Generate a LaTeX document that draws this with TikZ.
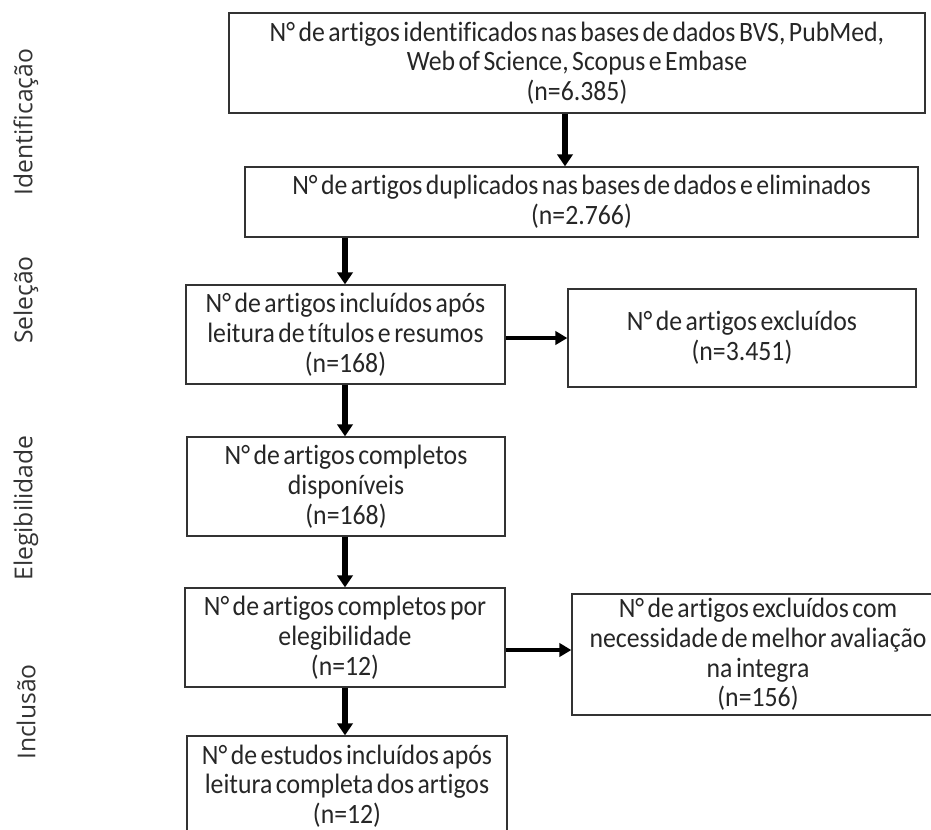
\documentclass[tikz,border=0pt]{standalone}
\usepackage{fontspec}
\setmainfont{Carlito}
\newfontfamily\boxfont[WordSpace=0.6,FakeStretch=0.92,Ligatures={NoCommon}]{Carlito}
\newfontfamily\sidefont{Open Sans}
\usetikzlibrary{arrows.meta}
\definecolor{boxline}{HTML}{333333}
\begin{document}
\begin{tikzpicture}[x=0.75pt,y=-0.75pt,
  flowbox/.style={draw=boxline,line width=1pt,inner sep=0pt,align=center,
    font=\boxfont\fontsize{21pt}{22.3pt}\selectfont,text=black!85},
  sidelabel/.style={rotate=90,font=\sidefont\fontsize{18.5pt}{20pt}\selectfont,text=black!80},
  varrow/.style={line width=3.8pt,-{Triangle[length=9pt,width=11.5pt]}},
  harrow/.style={line width=3pt,-{Triangle[length=9pt,width=10pt]}}]
\useasboundingbox (0,0) rectangle (931,829);
\fill[white] (0,0) rectangle (931,829);

\node[flowbox,minimum width=696*0.75pt,minimum height=100*0.75pt] (b1) at (577,63)
  {N° de artigos identificados nas bases de dados BVS, PubMed,\\Web of Science, Scopus e Embase\\(n=6.385)};
\node[flowbox,minimum width=673*0.75pt,minimum height=70*0.75pt] (b2) at (581.5,202)
  {N° de artigos duplicados nas bases de dados e eliminados\\(n=2.766)};
\node[flowbox,minimum width=319*0.75pt,minimum height=99*0.75pt] (b3) at (345.5,334.5)
  {N° de artigos incluídos após\\leitura de títulos e resumos\\(n=168)};
\node[flowbox,minimum width=348*0.75pt,minimum height=98*0.75pt] (b4) at (742,338)
  {N° de artigos excluídos\\(n=3.451)};
\node[flowbox,minimum width=318*0.75pt,minimum height=99*0.75pt] (b5) at (346,486.5)
  {N° de artigos completos\\disponíveis\\(n=168)};
\node[flowbox,minimum width=320*0.75pt,minimum height=99*0.75pt] (b6) at (345,637.5)
  {N° de artigos completos por\\elegibilidade\\(n=12)};
\node[flowbox,minimum width=372*0.75pt,minimum height=121*0.75pt] (b7) at (758,654.5)
  {N° de artigos excluídos com\\necessidade de melhor avaliação\\na integra\\(n=156)};
\node[flowbox,minimum width=320*0.75pt,minimum height=100*0.75pt] (b8) at (347,786)
  {N° de estudos incluídos após\\leitura completa dos artigos\\(n=12)};

\node[sidelabel] (l1) at (26,122) {Identificação};
\node[sidelabel] (l2) at (26,300) {Seleção};
\node[sidelabel] (l3) at (26,508) {Elegibilidade};
\node[sidelabel] (l4) at (26,712) {Inclusão};

\coordinate (c1) at (565,0);
\coordinate (c2) at (345,0);
\coordinate (c3) at (0,650);
\draw[varrow] (b1.south -| c1) -- (b2.north -| c1);
\draw[varrow] (b2.south -| c2) -- (b3.north -| c2);
\draw[harrow] (b3.east |- b4.west) -- (b4.west);
\draw[varrow] (b3.south -| c2) -- (b5.north -| c2);
\draw[varrow] (b5.south -| c2) -- (b6.north -| c2);
\draw[harrow] (b6.east |- c3) -- (b7.west |- c3);
\draw[varrow] (b6.south -| c2) -- (b8.north -| c2);
\end{tikzpicture}
\end{document}
